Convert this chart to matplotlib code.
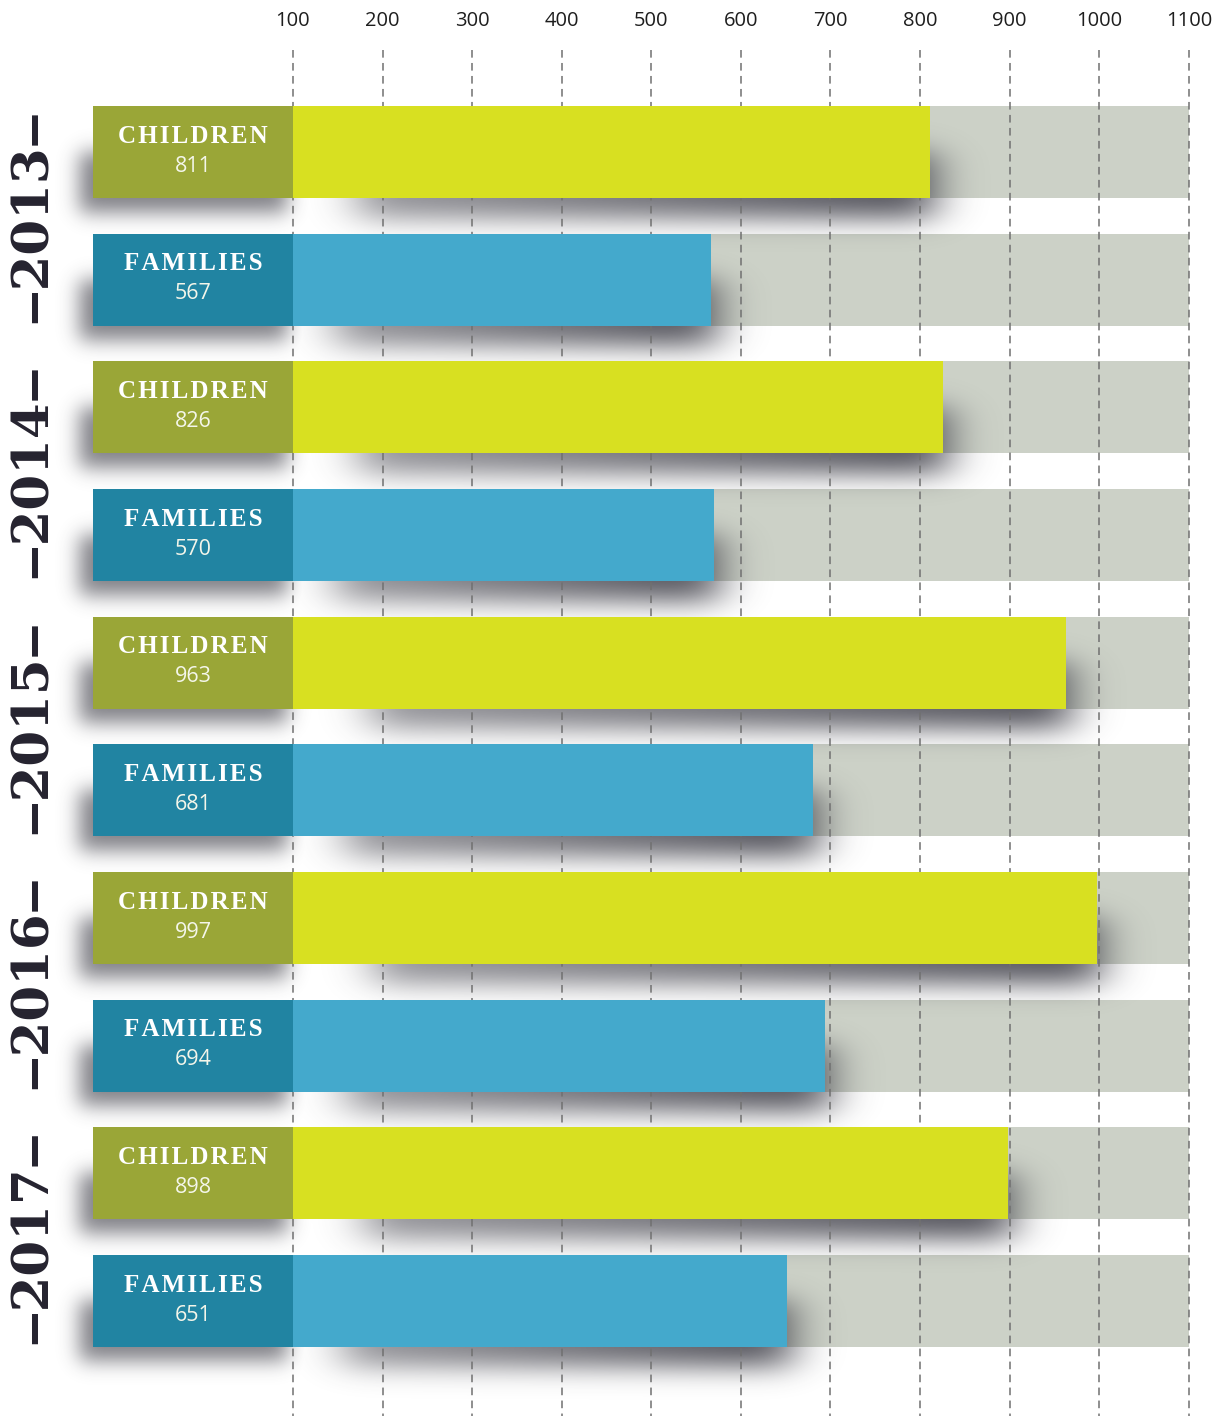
import math
import numpy as np
import matplotlib
matplotlib.use("Agg")
import matplotlib.pyplot as plt

# ---------------- data ----------------
years = ["2013", "2014", "2015", "2016", "2017"]
children = [811, 826, 963, 997, 898]
families = [567, 570, 681, 694, 651]
tick_values = [100, 200, 300, 400, 500, 600, 700, 800, 900, 1000, 1100]
row_labels = ["CHILDREN", "FAMILIES"]

# ---------------- style ----------------
W, H = 1222, 1416
DPI = 100
C_CH_BOX = "#9AA637"
C_CH_BAR = "#D8E021"
C_FA_BOX = "#2184A2"
C_FA_BAR = "#44A9CC"
C_BG = "#CCD1C7"
C_YEAR = "#25232F"
C_GRID = "#707070"

BASE = 100            # bar start value
XMAX = 1100           # gray background end
LABEL_LEFT = -123     # left edge of label box (value units)
XLIM = (-227, 1137)
AX_TOP_PX = 50
ROW0_PX = 152
ROW_STEP_PX = 127.67
YLIM = ((H - ROW0_PX) / ROW_STEP_PX, (AX_TOP_PX - ROW0_PX) / ROW_STEP_PX)
BAR_H = 92 / ROW_STEP_PX

fig = plt.figure(figsize=(W / DPI, H / DPI), dpi=DPI)
ax = fig.add_axes([0, 0, 1, (H - AX_TOP_PX) / H])
ax.set_xlim(*XLIM)
ax.set_ylim(*YLIM)
for s in ax.spines.values():
    s.set_visible(False)
ax.set_yticks([])
ax.xaxis.tick_top()
ax.set_xticks(tick_values)
ax.set_xticklabels([str(t) for t in tick_values])
ax.tick_params(axis="x", length=0, pad=14, labelsize=14.5, labelcolor="#1e1e1e")
for lab in ax.get_xticklabels():
    lab.set_fontfamily(["Liberation Sans Narrow", "Open Sans", "DejaVu Sans"])

# rows
rows = []
for yi, y in enumerate(years):
    rows.append((2 * yi, children[yi], C_CH_BOX, C_CH_BAR, row_labels[0]))
    rows.append((2 * yi + 1, families[yi], C_FA_BOX, C_FA_BAR, row_labels[1]))

# gray backgrounds
for r, v, cb, cbar, lab in rows:
    ax.barh(r, XMAX - BASE, left=BASE, height=BAR_H, color=C_BG, zorder=1, linewidth=0)

# ---------------- shadows (one image in pixel space) ----------------
xs_val = np.linspace(XLIM[0], XLIM[1], W)
ys_row = np.linspace(YLIM[1], YLIM[0], H - AX_TOP_PX)
erf = np.vectorize(math.erf)

def prof(c, a, b, s):
    return 0.5 * (erf((c - a) / (s * math.sqrt(2))) - erf((c - b) / (s * math.sqrt(2))))

px_per_val = W / (XLIM[1] - XLIM[0])
PXV = 1 / px_per_val          # one pixel in value units
PXR = 1 / ROW_STEP_PX         # one pixel in row units
alpha = np.zeros((len(ys_row), len(xs_val)))
for r, v, cb, cbar, lab in rows:
    yb = r + BAR_H / 2
    # under label box (offset down-left)
    fy = prof(ys_row, r, yb + 14 * PXR, 10 * PXR)
    fx = prof(xs_val, LABEL_LEFT - 14 * PXV, BASE - 6 * PXV, 10 * PXV)
    alpha = np.maximum(alpha, 0.62 * np.outer(fy, fx))
    # under bar body (darker toward the end)
    fy2 = prof(ys_row, r, yb + 20 * PXR, 13 * PXR)
    start = BASE + 0.1 * (v - BASE)
    fx2 = prof(xs_val, start, v + 4 * PXV, 22 * PXV)
    ramp = np.clip(0.6 + 0.4 * (xs_val - start) / max(v - start, 1), 0.6, 1.0)
    alpha = np.maximum(alpha, 0.85 * np.outer(fy2, fx2 * ramp))

img = np.zeros(alpha.shape + (4,))
img[..., 0] = 0.20
img[..., 1] = 0.20
img[..., 2] = 0.24
img[..., 3] = np.clip(alpha, 0, 1)
ax.imshow(img, extent=(XLIM[0], XLIM[1], YLIM[1], YLIM[0]), origin="lower",
          aspect="auto", zorder=2, interpolation="bilinear")
ax.set_xlim(*XLIM)
ax.set_ylim(*YLIM)

# grid lines
ax.vlines(tick_values, YLIM[1], YLIM[0], colors=C_GRID, linewidth=1.1,
          linestyles=[(0, (5, 3.5))], zorder=3)

# colored bars + label boxes
def spaced(t):
    return "\u200a".join(t)

for r, v, cb, cbar, lab in rows:
    ax.barh(r, v - BASE, left=BASE, height=BAR_H, color=cbar, zorder=4, linewidth=0)
    ax.barh(r, BASE - LABEL_LEFT, left=LABEL_LEFT, height=BAR_H, color=cb, zorder=4, linewidth=0)
    cx = (LABEL_LEFT + BASE) / 2
    ax.text(cx, r - 0.125, spaced(lab), color="white", ha="center", va="center",
            fontsize=18, fontweight="bold",
            family=["Liberation Serif", "DejaVu Serif"], zorder=5)
    ax.text(cx, r + 0.11, str(v), color="#F4F6EA", ha="center", va="center",
            fontsize=15.5, family=["Open Sans", "DejaVu Sans"], zorder=5)

# year labels
year_x = XLIM[0] + 33 * PXV
for yi, y in enumerate(years):
    ax.text(year_x, 2 * yi + 0.5, "\u2012" + y + "\u2012", rotation=90,
            ha="center", va="center", color=C_YEAR, fontsize=37, fontweight="bold",
            family=["DejaVu Serif", "DejaVu Sans"], zorder=5)

fig.savefig("out.png", dpi=DPI, facecolor="white")
